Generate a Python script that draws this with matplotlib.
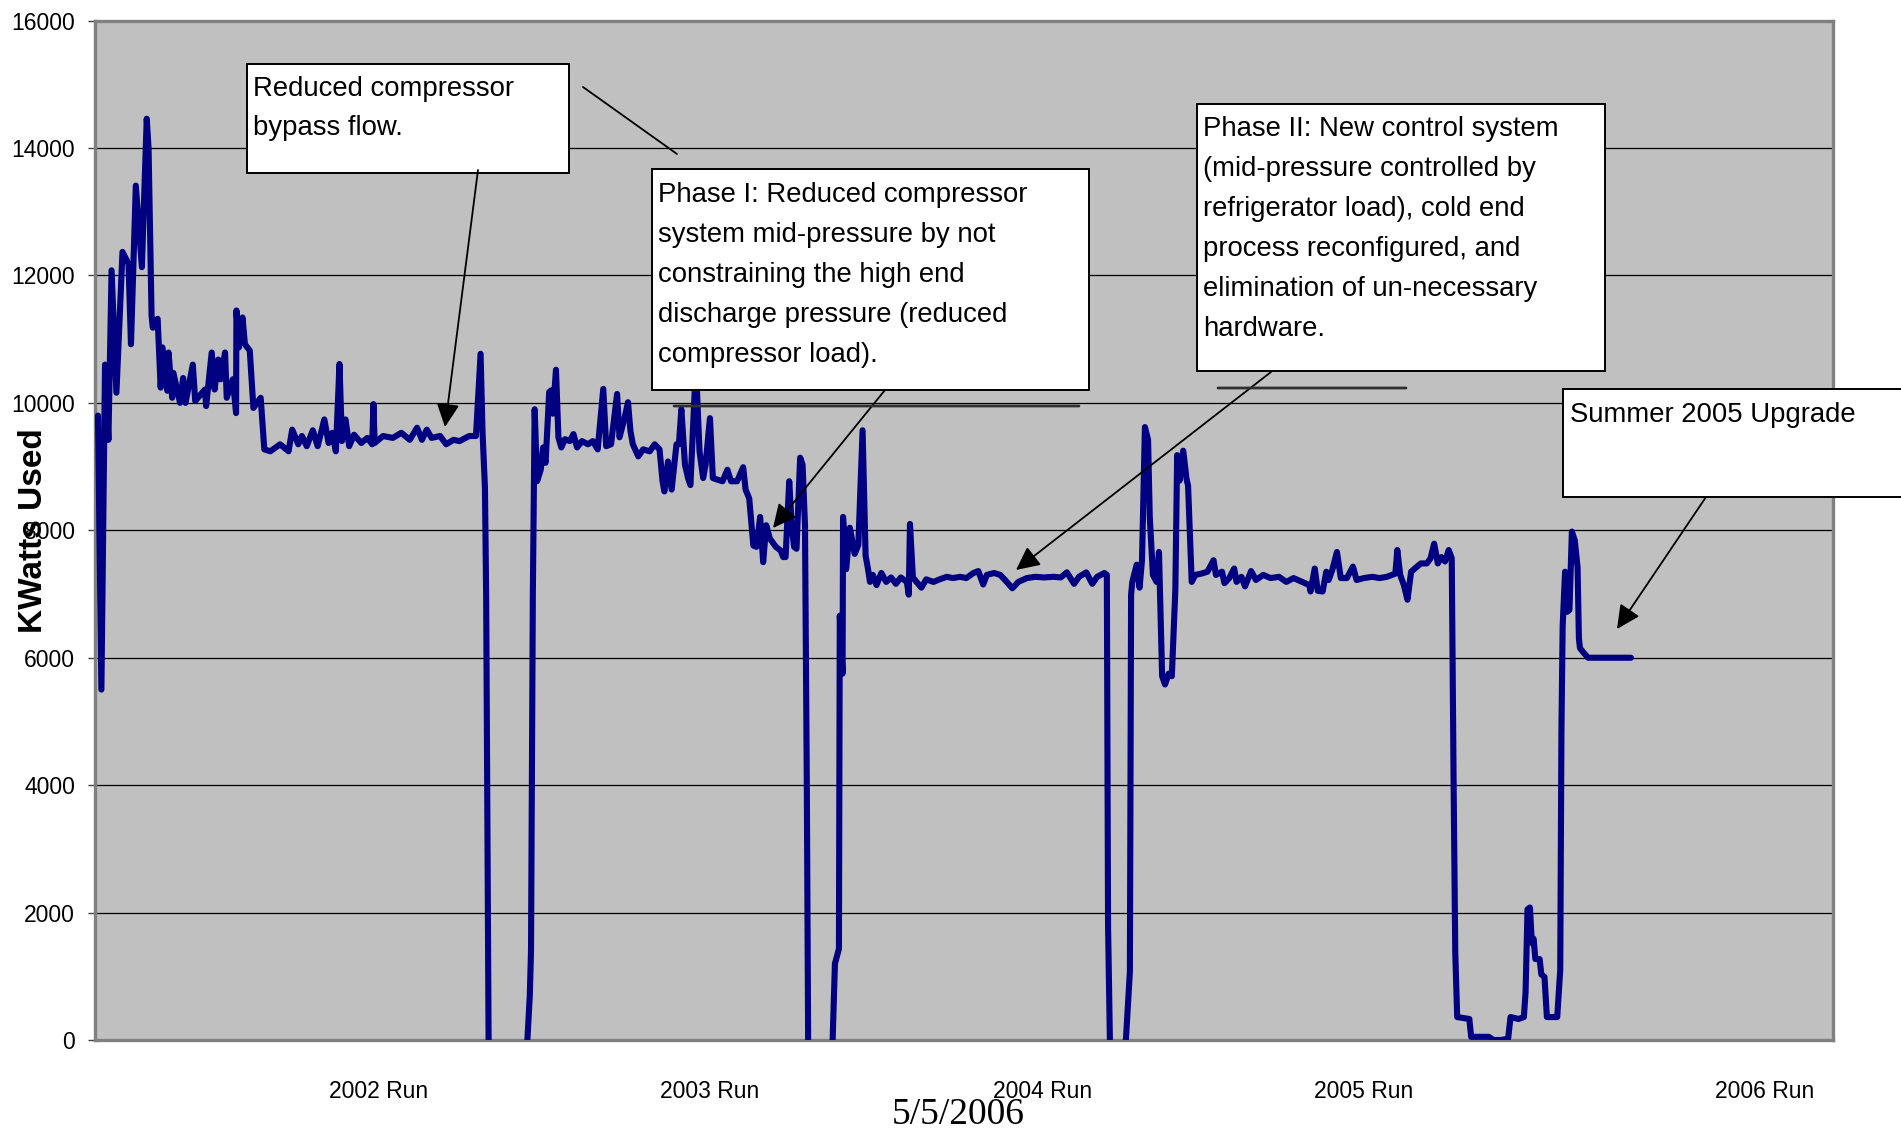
import numpy as np
import matplotlib
matplotlib.use("Agg")
import matplotlib.pyplot as plt
from matplotlib.patches import Rectangle, FancyArrowPatch

plt.rcParams['font.family'] = ['Liberation Sans', 'DejaVu Sans']

# ---- data ----
# x = run day counted from the left edge of the plot, y = kW used
# None marks the gaps between the runs
run_day = [
    # 2002 run
    2.8, 5.6, 8.6, 11.4, 14, 18, 23, 28, 30, 34, 39, 43, 44.5, 47, 48, 52, 54.5, 56,
    60, 61, 64, 65, 70.5, 73, 75, 81, 83, 91, 92, 96.6, 99, 102, 104, 107.6, 109,
    114, 116.7, 117, 119, 122, 124, 128, 131, 137, 140, 145, 153, 160, 163, 168,
    171, 175, 180, 184, 189.5, 193, 196, 199, 202, 204, 207, 210, 214, 220, 225,
    229, 230, 231, 238, 246, 253, 260, 266, 270, 274, 278, 285, 290, 296, 301,
    309, 314.6, 316, 318.4, 320, 322, 323, 325, None,
    # 2003 run
    357, 359, 360, 361.5, 363, 365, 368, 370, 372, 375, 377, 378, 380.6, 382.6,
    385, 388, 392, 395, 398, 402, 407, 411, 415, 419.6, 422, 426, 431, 433, 437,
    440, 442, 444, 448.5, 452.5, 458, 462, 466, 468.5, 470, 473, 476, 480, 482,
    484, 487, 489.5, 491.5, 493, 496, 499, 502, 504, 507.6, 510, 513, 518, 522,
    525, 530, 535, 537, 540, 543.4, 546, 549, 551.5, 554, 557, 562, 566, 568, 570,
    573, 575, 577, 579, 582, 584, 586, 587.5, 588.6, None,
    # 2004 run
    608.8, 610.7, 614, 614.7, 617, 617.4, 620, 623, 627, 630, 633.5, 636, 638,
    639.6, 642, 645, 649, 653, 657, 661, 665, 670, 671.6, 672.6, 675, 678, 682,
    686, 692, 697, 703, 708, 714, 719, 725, 729, 733, 736, 742, 747, 751, 757,
    762, 769, 776, 783, 791, 797, 802, 808, 812, 818, 823, 827, 833, 835, 836,
    837.5, None,
    # 2005 run and start of 2006
    850.7, 854, 855, 856, 859.6, 862, 864, 866.4, 869, 870.4, 873, 876, 878,
    880.6, 883, 886, 888.6, 891.5, 893, 895, 898, 900.7, 902, 905, 908, 913, 918,
    923, 925, 930, 932, 936, 940, 942, 946, 949, 954, 958, 964, 970, 977, 983,
    989, 996, 1002, 1003, 1006.5, 1009, 1013, 1016, 1018, 1021, 1024.8, 1028,
    1033, 1038, 1041, 1047, 1054, 1060, 1066, 1073, 1074.6, 1077, 1080, 1083,
    1086, 1089, 1094, 1099, 1102, 1105, 1108, 1111, 1114, 1117, 1119.5, 1121,
    1122.4, 1124, 1134, 1135.5, 1150, 1154, 1160, 1166, 1168, 1174.6, 1179,
    1180.4, 1182, 1184, 1185.6, 1187, 1188.5, 1192, 1193.4, 1196, 1198, 1206.5,
    1209, 1210, 1211, 1213, 1214.6, 1216.6, 1218.6, 1221, 1223.3, 1224.4, 1225.3,
    1228.2, 1232, 1267.3,
]
kw_used = [
    # 2002 run
    9800, 5500, 10600, 9420, 12080, 10160, 12370, 12180, 10920, 13410, 12130,
    14460, 14000, 11370, 11180, 11320, 10240, 10870, 10190, 10790, 10080, 10470,
    10000, 10390, 10000, 10600, 10030, 10210, 9950, 10790, 10210, 10680, 10370,
    10790, 10080, 10370, 9840, 11450, 10870, 11340, 10920, 10820, 9920, 10080,
    9270, 9240, 9350, 9240, 9580, 9350, 9480, 9320, 9570, 9320, 9740, 9370, 9530,
    9240, 10610, 9400, 9740, 9320, 9500, 9370, 9450, 9350, 9980, 9370, 9480, 9450,
    9530, 9420, 9610, 9420, 9580, 9450, 9480, 9350, 9420, 9400, 9480, 9480, 9950,
    10770, 9550, 8660, 6960, 0, None,
    # 2003 run
    0, 700, 1400, 7000, 9900, 8770, 8950, 9300, 9060, 10170, 10200, 9830, 10520,
    9460, 9300, 9430, 9400, 9510, 9300, 9400, 9350, 9400, 9270, 10220, 9320, 9350,
    10140, 9460, 9750, 10010, 9560, 9350, 9160, 9270, 9240, 9350, 9270, 8770, 8610,
    9080, 8640, 9350, 9350, 9900, 9030, 8820, 8710, 9350, 10600, 9240, 8820, 9030,
    9760, 8820, 8800, 8770, 8950, 8770, 8770, 8990, 8640, 8500, 7760, 7740, 8210,
    7500, 8080, 7870, 7740, 7680, 7580, 7580, 8770, 8080, 7740, 7710, 9140, 9030,
    8080, 4000, 0, None,
    # 2004 run
    0, 1200, 1430, 6660, 5750, 8210, 7390, 8040, 7630, 7770, 9570, 7600, 7390,
    7190, 7300, 7140, 7330, 7190, 7260, 7160, 7260, 7190, 6990, 8100, 7260, 7190,
    7100, 7230, 7190, 7230, 7270, 7250, 7270, 7250, 7330, 7360, 7150, 7300, 7330,
    7300, 7220, 7090, 7190, 7250, 7270, 7260, 7270, 7260, 7340, 7160, 7270, 7340,
    7160, 7270, 7330, 7300, 1800, 0, None,
    # 2005 run and start of 2006
    0, 1070, 6990, 7190, 7460, 7100, 7530, 9620, 9420, 8210, 7300, 7190, 7660,
    5710, 5580, 5750, 5710, 7060, 9180, 8780, 9250, 8810, 8700, 7190, 7300, 7320,
    7350, 7530, 7300, 7350, 7170, 7250, 7400, 7190, 7270, 7120, 7360, 7220, 7300,
    7250, 7270, 7190, 7250, 7190, 7140, 7040, 7400, 7050, 7040, 7350, 7220, 7380,
    7660, 7250, 7250, 7430, 7220, 7250, 7270, 7250, 7270, 7320, 7690, 7300, 7140,
    6910, 7350, 7400, 7480, 7480, 7560, 7790, 7480, 7580, 7510, 7690, 7560, 4120,
    1380, 360, 330, 50, 50, 0, 0, 20, 360, 330, 360, 750, 2050, 2080, 1520, 1590,
    1270, 1270, 1030, 990, 360, 360, 1100, 4890, 6500, 7350, 6720, 6750, 7980,
    7840, 7420, 6300, 6150, 6080, 6000, 6000,
]
run_labels = ['2002 Run', '2003 Run', '2004 Run', '2005 Run', '2006 Run']
run_label_day = [234, 507, 782, 1047, 1378]

x = np.array([np.nan if v is None else v for v in run_day], dtype=float)
y = np.array([np.nan if v is None else v for v in kw_used], dtype=float)

# ---- figure ----
FIG_W, FIG_H = 1901, 1129
fig = plt.figure(figsize=(FIG_W / 100, FIG_H / 100), dpi=100)
fig.patch.set_facecolor('white')


def fpos(px, py):
    # pixel position in the picture -> figure fraction
    return (px / FIG_W, 1 - py / FIG_H)


ax = fig.add_axes([94.6 / FIG_W, 1 - 1040 / FIG_H,
                   (1833 - 94.6) / FIG_W, (1040 - 20.6) / FIG_H])
ax.set_facecolor('#C0C0C0')
ax.plot(x, y, color='#000080', lw=4.4, solid_joinstyle='round',
        solid_capstyle='round', zorder=3)

ax.set_xlim(0, 1434)
ax.set_ylim(0, 16000)
ax.set_yticks(range(0, 16001, 2000))
ax.set_xticks(run_label_day)
ax.set_xticklabels(run_labels)
ax.tick_params(axis='x', length=0, pad=29, labelsize=16.5)
ax.tick_params(axis='y', length=5, width=1, color='#404040', pad=9, labelsize=16.5)
ax.grid(True, axis='y', color='black', lw=0.9)
ax.set_axisbelow(True)
for sp in ax.spines.values():
    sp.set_color('#808080')
    sp.set_linewidth(2.4)

ax.set_ylabel('KWatts Used', fontsize=24, fontweight='bold')
ax.yaxis.set_label_coords(-0.026, 0.5)

# ---- note boxes ----
def note_box(x0, y0, x1, y1, lines, tx, line_y):
    (fx0, fy0) = fpos(x0, y0)
    (fx1, fy1) = fpos(x1, y1)
    fig.add_artist(Rectangle((fx0, fy1), fx1 - fx0, fy0 - fy1,
                             transform=fig.transFigure, facecolor='white',
                             edgecolor='black', lw=1.4, zorder=4))
    for i, t in enumerate(lines):
        px, py = fpos(tx, line_y[i] + 10)
        fig.text(px, py, t, fontsize=19.8, ha='left', va='baseline', zorder=5)


note_box(247, 64, 569, 173, ['Reduced compressor', 'bypass flow.'], 253, [86, 125])
note_box(652, 169, 1089, 390,
         ['Phase I: Reduced compressor', 'system mid-pressure by not',
          'constraining the high end', 'discharge pressure (reduced',
          'compressor load).'],
         658, [192, 232, 272, 312, 352])
note_box(1197, 104, 1605, 371,
         ['Phase II: New control system', '(mid-pressure controlled by',
          'refrigerator load), cold end', 'process reconfigured, and',
          'elimination of un-necessary', 'hardware.'],
         1203, [126, 166, 206, 246, 286, 326])
note_box(1563, 389, 1915, 497, ['Summer 2005 Upgrade'], 1570, [412])


def arrow(p0, p1, head=True, lw=1.3, color='black'):
    style = '-|>,head_length=0.45,head_width=0.22' if head else '-'
    fig.add_artist(FancyArrowPatch(fpos(*p0), fpos(*p1), arrowstyle=style,
                                   mutation_scale=32, lw=lw, color=color,
                                   shrinkA=0, shrinkB=0,
                                   transform=fig.transFigure, zorder=6))


arrow((478, 170), (445, 427))
arrow((583, 87), (677, 154), head=False)
arrow((885, 390), (773, 528))
arrow((1271, 372), (1016, 570))
arrow((1706, 497), (1617, 629))
arrow((674, 406), (1079, 406), head=False, lw=2.0, color='#303030')
arrow((1218, 388), (1406, 388), head=False, lw=2.0, color='#303030')

dx, dy = fpos(958, 1115)
fig.text(dx, dy, '5/5/2006', fontsize=27, family=['Liberation Serif', 'DejaVu Serif'],
         ha='center', va='center')

fig.savefig('out.png', dpi=100)
